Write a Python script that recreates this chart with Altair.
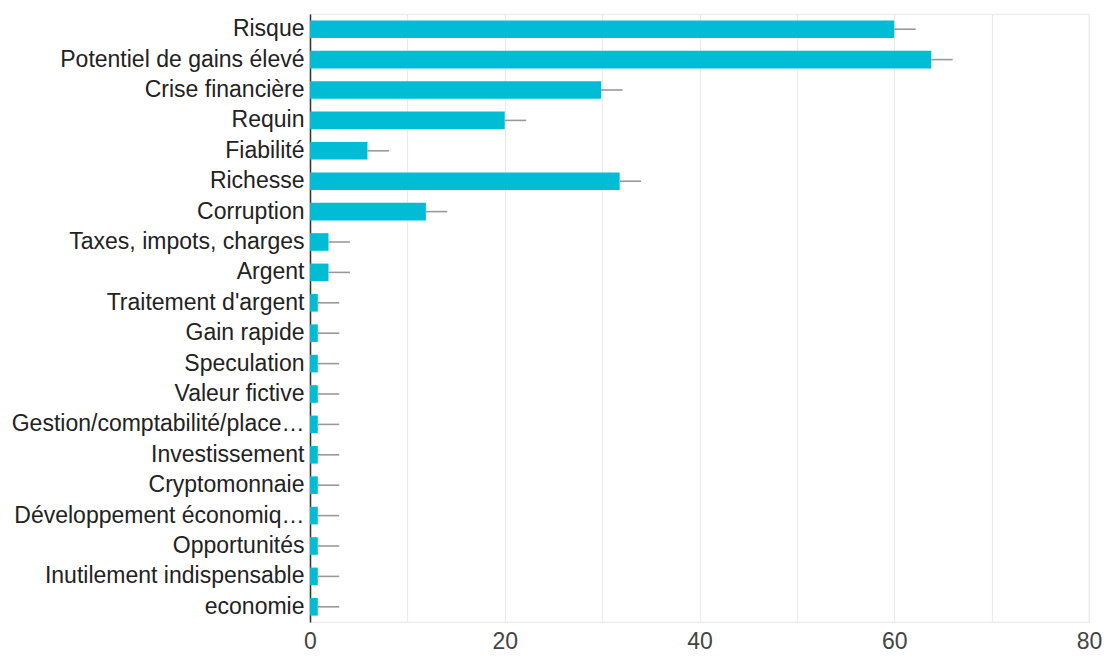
import altair as alt
import pandas as pd

categories = [
    "Risque", "Potentiel de gains élevé", "Crise financière", "Requin", "Fiabilité",
    "Richesse", "Corruption", "Taxes, impots, charges", "Argent", "Traitement d'argent",
    "Gain rapide", "Speculation", "Valeur fictive", "Gestion/comptabilité/place…",
    "Investissement", "Cryptomonnaie", "Développement économiq…", "Opportunités",
    "Inutilement indispensable", "economie",
]
values = [60, 63.8, 29.9, 20, 5.9, 31.8, 11.9, 1.9, 1.9, 0.8,
          0.8, 0.8, 0.8, 0.8, 0.8, 0.8, 0.8, 0.8, 0.8, 0.8]
errors = [2.2] * 20

df = pd.DataFrame({"cat": categories, "val": values, "err": errors})
df["hi"] = df["val"] + df["err"]

FONT = "Liberation Sans"

y_enc = alt.Y("cat:N", sort=categories, title=None,
              scale=alt.Scale(paddingInner=0.42, paddingOuter=0.21),
              axis=alt.Axis(labelFont=FONT, labelFontSize=23, labelColor="#222",
                            labelPadding=6, ticks=False, domainColor="#333",
                            domainWidth=1.5, labelLimit=400, grid=False))

x_scale = alt.Scale(domain=[0, 80], nice=False)

bars = alt.Chart(df).mark_bar(color="#00BCD4").encode(
    x=alt.X("val:Q", scale=x_scale, title=None,
            axis=alt.Axis(values=list(range(0, 81, 10)),
                          labelExpr="datum.value % 20 == 0 ? datum.label : ''",
                          labelFont=FONT, labelFontSize=23, labelColor="#444",
                          labelPadding=8, labelFlush=False, ticks=False, domain=False,
                          grid=True, gridColor="#ebebeb", gridWidth=1.2)),
    y=y_enc,
)

err = alt.Chart(df).mark_rule(color="#999", strokeWidth=1.6).encode(
    x=alt.X("val:Q", scale=x_scale),
    x2="hi:Q",
    y=alt.Y("cat:N", sort=categories),
)

chart = alt.layer(bars, err).properties(
    width=779, height=608,
    autosize=alt.AutoSizeParams(type="none"),
    padding={"left": 302, "top": 6, "right": 14, "bottom": 30},
).configure_view(stroke="#ebebeb", strokeWidth=1.2)

chart.save("out.html", embed_options={"renderer": "svg", "actions": False})
